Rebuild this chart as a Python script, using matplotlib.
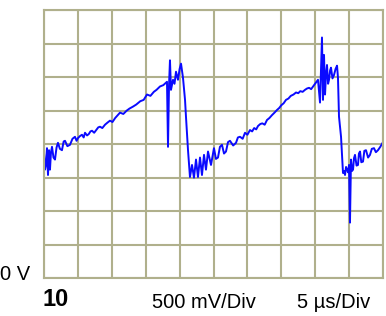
import numpy as np
import matplotlib
matplotlib.use('Agg')
import matplotlib.pyplot as plt

plt.rcParams['font.family'] = ['Liberation Sans', 'DejaVu Sans']

# trace: time in us, voltage in V
t_us = [0.0, 0.0, 0.15, 0.29, 0.44, 0.59, 0.74, 0.88, 1.03, 1.18, 1.4, 1.62, 1.85, 2.06,
        2.35, 2.65, 2.9, 3.10, 3.45, 3.83, 4.2, 4.57, 4.8, 5.01, 5.3, 5.6, 5.85, 6.05,
        6.35, 6.6, 6.85, 7.08, 7.4, 7.7, 8.0, 8.26, 8.6, 9.0, 9.35, 9.73, 10.1, 10.5,
        10.85, 11.21, 11.7, 12.2, 12.6, 13.13, 13.6, 14.2, 14.7, 15.19, 15.7, 16.2,
        16.6, 17.11, 17.6, 18.14, 18.29, 18.44, 18.58, 18.73, 19.03, 19.25,
        19.47, 19.76, 20.0, 20.21, 20.50, 20.80, 20.94, 21.24, 21.53, 21.83, 22.12,
        22.42, 22.71, 23.01, 23.30, 23.60, 23.89, 24.19, 24.63, 25.07, 25.36, 25.66,
        25.95, 26.25, 26.55, 26.84, 27.14, 27.43, 27.9, 28.32, 28.6, 28.91, 29.3,
        29.65, 30.0, 30.38, 30.7, 31.0, 31.3, 31.56, 31.9, 32.2, 32.55, 32.89, 33.25,
        33.6, 34.0, 34.37, 34.7, 35.0, 35.35, 35.69, 36.05, 36.4, 36.8, 37.17, 37.5,
        37.8, 38.15, 38.50, 38.8, 39.1, 39.4, 39.68, 40.05, 40.41, 40.71, 41.00,
        41.15, 41.30, 41.45, 41.6, 41.74, 41.9, 42.04, 42.2, 42.33, 42.55, 42.77,
        43.0, 43.22, 43.36, 43.51, 43.81, 44.10, 44.25, 44.40, 44.55, 44.69, 44.85,
        44.99, 45.13, 45.28, 45.43, 45.58, 45.72, 45.87, 46.1, 46.31, 46.45, 46.61,
        46.8, 47.05, 47.25, 47.49, 47.8, 48.08, 48.35, 48.67, 48.95, 49.26, 49.6, 50.0]
v_volts = [1.20, 1.87, 1.62, 1.69, 1.94, 1.54, 1.91, 1.62, 1.88, 1.96, 1.80, 1.77, 1.95, 2.02,
           1.93, 1.91, 2.04, 2.05, 1.97, 1.99, 2.08, 2.11, 2.05, 2.09, 2.12, 2.14, 2.10, 2.17,
           2.13, 2.15, 2.19, 2.20, 2.17, 2.21, 2.25, 2.26, 2.24, 2.29, 2.32, 2.35, 2.33, 2.39,
           2.43, 2.47, 2.45, 2.50, 2.53, 2.56, 2.59, 2.64, 2.66, 2.74, 2.72, 2.78,
           2.81, 2.86, 2.88, 2.93, 1.96, 2.88, 3.25, 2.81, 2.96, 2.90,
           3.08, 2.96, 3.12, 3.20, 2.99, 2.66, 2.41, 1.91, 1.51, 1.69, 1.50,
           1.77, 1.51, 1.80, 1.54, 1.84, 1.62, 1.89, 1.69, 1.94, 1.78, 1.80,
           1.96, 1.99, 1.86, 1.89, 2.03, 2.05, 1.98, 2.02, 2.10, 2.11, 2.08,
           2.17, 2.14, 2.21, 2.19, 2.24, 2.22, 2.27, 2.30, 2.31, 2.29, 2.36, 2.39,
           2.43, 2.47, 2.51, 2.54, 2.58, 2.61, 2.66, 2.68, 2.72, 2.74, 2.77, 2.76,
           2.79, 2.78, 2.81, 2.83, 2.84, 2.82, 2.86, 2.91, 2.96, 2.62, 3.59,
           2.66, 3.33, 2.74, 3.05, 3.18, 2.90, 2.96, 3.10, 3.14, 2.98, 3.03,
           3.12, 3.17, 2.99, 2.41, 2.11, 1.57, 1.60, 1.54, 1.66, 1.62, 1.58,
           1.69, 0.83, 1.77, 1.60, 1.62, 1.79, 1.84, 1.68, 1.69, 1.86, 1.89,
           1.73, 1.74, 1.90, 1.91, 1.80, 1.84, 1.93, 1.94, 1.88, 1.91, 1.96, 2.03]

us_per_div = 5
v_per_div = 0.5

fig = plt.figure(figsize=(3.86, 3.16), dpi=100)
ax = fig.add_axes([44/386, 1-278.3/316, 339/386, 268.3/316])
ax.set_xlim(0, 10*us_per_div)
ax.set_ylim(0, 8*v_per_div)
ax.set_xticks(np.arange(0, 10*us_per_div+1, us_per_div))
ax.set_yticks(np.arange(0, 8*v_per_div+0.01, v_per_div))
ax.grid(True, color='#b0b08c', linewidth=1.5)
ax.tick_params(length=0, labelbottom=False, labelleft=False)
for s in ax.spines.values():
    s.set_color('#b0b08c')
    s.set_linewidth(1.5)

ax.plot(t_us, v_volts, color='#0a0aff', linewidth=1.4)

fig.text(0/386, 1-275/316, '0 V', fontsize=14.5, va='center', ha='left')
fig.text(42/386, 1-300/316, '10', fontsize=17, fontweight='bold', va='center', ha='left')
fig.text(152/386, 1-303/316, '500 mV/Div', fontsize=14.5, va='center', ha='left')
fig.text(297/386, 1-303/316, '5 \u00b5s/Div', fontsize=14.5, va='center', ha='left')

fig.savefig('out.png', dpi=100)
